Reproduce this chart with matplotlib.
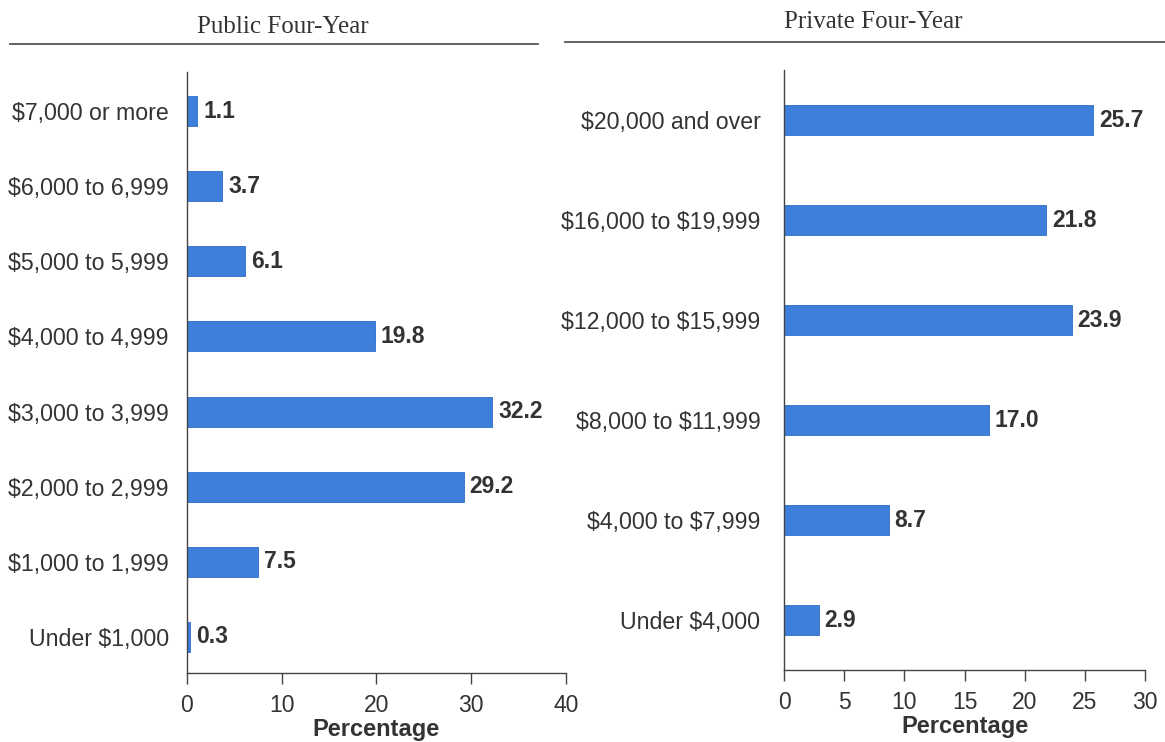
import matplotlib.pyplot as plt
import numpy as np

plt.rcParams['text.parse_math'] = False
plt.rcParams['font.family'] = ['Liberation Sans', 'DejaVu Sans']

public_labels = ["Under $1,000", "$1,000 to 1,999", "$2,000 to 2,999", "$3,000 to 3,999",
                 "$4,000 to 4,999", "$5,000 to 5,999", "$6,000 to 6,999", "$7,000 or more"]
public_vals = [0.3, 7.5, 29.2, 32.2, 19.8, 6.1, 3.7, 1.1]

private_labels = ["Under $4,000", "$4,000 to $7,999", "$8,000 to $11,999",
                  "$12,000 to $15,999", "$16,000 to $19,999", "$20,000 and over"]
private_vals = [2.9, 8.7, 17.0, 23.9, 21.8, 25.7]

bar_color = "#3f7fdc"
text_color = "#333333"

fig = plt.figure(figsize=(11.65, 7.42), dpi=100)

ax1 = fig.add_axes([0.1605, 0.093, 0.3253, 0.810])
ax2 = fig.add_axes([0.673, 0.097, 0.3099, 0.8086])


def draw_panel(ax, labels, vals, height, xmax, step, ylim, lab_pad):
    y = np.arange(len(vals))
    ax.barh(y, vals, height=height, color=bar_color, edgecolor="#2f6cc8", linewidth=0.6)
    for yi, v in zip(y, vals):
        ax.text(v + xmax * 0.016, yi, f"{v:.1f}", va="center", ha="left",
                fontsize=16.5, fontweight="bold", color=text_color)
    ax.set_yticks(y)
    ax.set_yticklabels(labels, fontsize=16.7, color=text_color)
    ax.tick_params(axis="y", length=0, pad=lab_pad)
    ax.set_xlim(0, xmax)
    ax.set_ylim(*ylim)
    ax.set_xticks(np.arange(0, xmax + 0.1, step))
    ax.tick_params(axis="x", direction="out", length=8, width=1, colors="#444444",
                   labelsize=16.5, labelcolor=text_color, pad=7)
    for s in ["top", "right"]:
        ax.spines[s].set_visible(False)
    for s in ["left", "bottom"]:
        ax.spines[s].set_color("#444444")
        ax.spines[s].set_linewidth(1)
    ax.set_xlabel("Percentage", fontsize=17, fontweight="bold", color=text_color, labelpad=1)


draw_panel(ax1, public_labels, public_vals, 0.4, 40, 10, (-0.48, 7.52), 13)
draw_panel(ax2, private_labels, private_vals, 0.3, 30, 5, (-0.5, 5.5), 17)

# panel headings with rules underneath
fig.text(283 / 1165, 1 - 27 / 742, "Public Four-Year", ha="center", va="center",
         fontsize=18, family="Liberation Serif", color=text_color)
fig.text(873 / 1165, 1 - 22 / 742, "Private Four-Year", ha="center", va="center",
         fontsize=18, family="Liberation Serif", color=text_color)
fig.add_artist(plt.Line2D([10 / 1165, 538 / 1165], [1 - 44 / 742] * 2, color="#555555", lw=1.3))
fig.add_artist(plt.Line2D([565 / 1165, 1.0], [1 - 42 / 742] * 2, color="#555555", lw=1.3))

fig.savefig("out.png", dpi=100)
